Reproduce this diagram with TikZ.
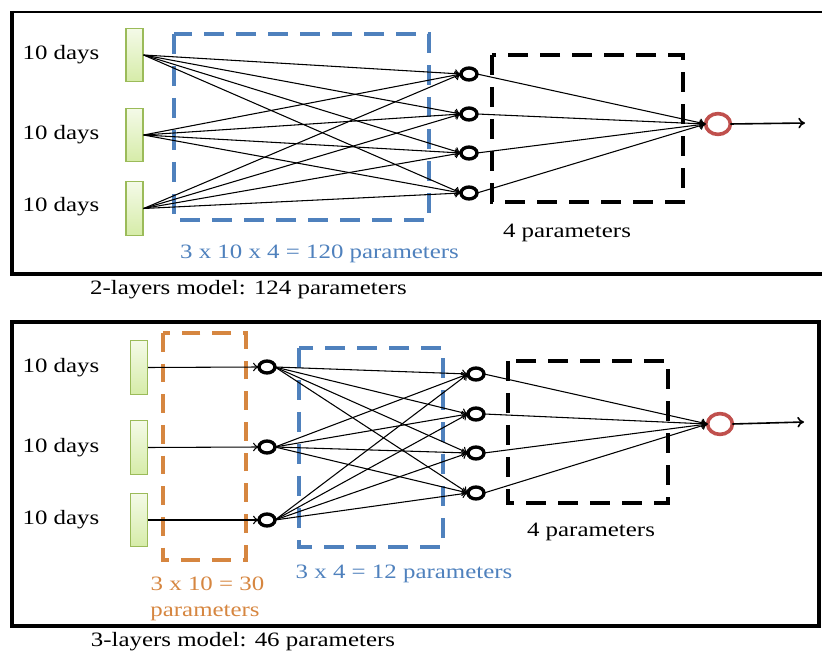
\documentclass[tikz,border=0pt]{standalone}
\usepackage{fontspec}
\setmainfont{Liberation Serif}[FakeStretch=1.22]
\usetikzlibrary{arrows.meta,shapes.geometric}
\definecolor{boxblue}{RGB}{79,129,189}
\definecolor{boxorange}{RGB}{214,134,64}
\definecolor{outred}{RGB}{192,80,77}
\definecolor{ingreen}{RGB}{155,187,89}
\definecolor{fillA}{RGB}{244,250,232}
\definecolor{fillB}{RGB}{214,236,168}
\tikzset{
  lbl/.style={font=\fontsize{15.3}{18}\selectfont, inner sep=0pt, anchor=base},
  inbox/.style={draw=ingreen, line width=0.9pt, top color=fillA, bottom color=fillB,
    minimum width=12.75pt, minimum height=40pt, inner sep=0pt},
  unit/.style={ellipse, draw=black, line width=2.5pt, minimum width=12pt,
    minimum height=9pt, inner sep=0pt, outer sep=0pt},
  outunit/.style={ellipse, draw=outred, line width=2.7pt, minimum width=18.6pt,
    minimum height=15.6pt, inner sep=0pt, outer sep=0pt},
  wire/.style={line width=0.8pt, -{To[length=4.5pt,width=6.5pt]}},
  outwire/.style={line width=1.2pt, -{To[length=5pt,width=8pt]}},
  bluedash/.style={draw=boxblue, line width=3.2pt, dash pattern=on 15pt off 9pt},
  blackdash/.style={draw=black, line width=3.4pt, dash pattern=on 15pt off 9pt},
  orangedash/.style={draw=boxorange, line width=3.2pt, dash pattern=on 14pt off 9pt},
  frame/.style={draw=black, line width=3pt},
}
\begin{document}
\begin{tikzpicture}[x=0.75pt, y=-0.75pt]
\useasboundingbox (0,0) rectangle (822,652);

% ---------- two-layer model ----------
\draw[line width=1.4pt] (12,12) -- (830,12);
\draw[frame] (12,11) -- (12,274) -- (830,274);

\draw[bluedash] (174,34) rectangle (429,220);
\draw[blackdash] (492,55) rectangle (683,202);

\node[lbl] (ta) at (61,60) {10 days};
\node[lbl] (tb) at (61,140) {10 days};
\node[lbl] (tc) at (61,212) {10 days};

\node[inbox] (I1) at (134.5,55) {};
\node[inbox] (I2) at (134.5,135) {};
\node[inbox] (I3) at (134.5,208.5) {};

\node[unit] (H1) at (469,74) {};
\node[unit] (H2) at (469,114) {};
\node[unit] (H3) at (469,153) {};
\node[unit] (H4) at (469,193) {};

\node[outunit] (O) at (718,124) {};
\coordinate (Oend) at (805,123);

\foreach \i in {I1,I2,I3}
  \foreach \h in {H1,H2,H3,H4}
    \draw[wire] (\i.east) -- (\h.west);
\foreach \h in {H1,H2,H3,H4}
  \draw[wire] (\h.east) -- (O.west);
\draw[outwire] (O.east) -- (Oend);

\node[lbl, text=boxblue] (p1) at (319.5,259) {3 x 10 x 4 = 120 parameters};
\node[lbl] (p2) at (567,238) {4 parameters};
\node[lbl] (cap1) at (248.5,295) {2-layers model: 124 parameters};

% ---------- three-layer model ----------
\draw[frame] (12,322) rectangle (819,626);

\draw[orangedash] (163,333) rectangle (246,560);
\draw[bluedash] (299,348) rectangle (443,547);
\draw[blackdash] (508,361) rectangle (668,503);

\node[lbl] (td) at (61,373) {10 days};
\node[lbl] (te) at (61,453) {10 days};
\node[lbl] (tf) at (61,524) {10 days};

\node[inbox] (J1) at (139,367.5) {};
\node[inbox] (J2) at (139,447.5) {};
\node[inbox] (J3) at (139,520) {};

\node[unit] (L1) at (267,367) {};
\node[unit] (L2) at (267,447) {};
\node[unit] (L3) at (267,520) {};

\node[unit] (M1) at (476,374) {};
\node[unit] (M2) at (476,414) {};
\node[unit] (M3) at (476,453) {};
\node[unit] (M4) at (476,493) {};

\node[outunit] (P) at (720,424) {};
\coordinate (Pend) at (804,422);

\draw[wire] (J1.east) -- (L1.west);
\draw[wire] (J2.east) -- (L2.west);
\draw[wire] (J3.east) -- (L3.west);
\foreach \l in {L1,L2,L3}
  \foreach \m in {M1,M2,M3,M4}
    \draw[wire] (\l.east) -- (\m.west);
\foreach \m in {M1,M2,M3,M4}
  \draw[wire] (\m.east) -- (P.west);
\draw[outwire] (P.east) -- (Pend);

\node[lbl, text=boxorange] (q1) at (207.5,590) {3 x 10 = 30};
\node[lbl, text=boxorange] (q2) at (205,616) {parameters};
\node[lbl, text=boxblue] (q3) at (404,578) {3 x 4 = 12 parameters};
\node[lbl] (q4) at (591,537) {4 parameters};
\node[lbl] (cap2) at (243,646) {3-layers model: 46 parameters};
\end{tikzpicture}
\end{document}
